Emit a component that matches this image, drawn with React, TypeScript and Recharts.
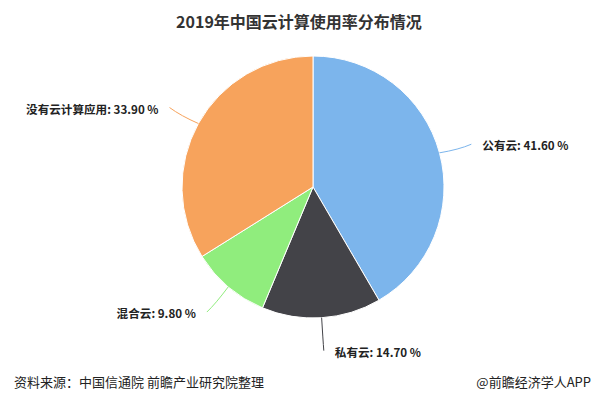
import { Cell, Pie, PieChart } from "recharts";

// share of enterprises by cloud usage, 2019 (%)
const categories = ["公有云", "私有云", "混合云", "没有云计算应用"];
const shares = [41.6, 14.7, 9.8, 33.9];
const colors = ["#7cb5ec", "#434348", "#90ed7d", "#f7a35c"];

const data = categories.map((name, i) => ({ name, value: shares[i] }));

const FONT = '"Noto Sans CJK SC", "Noto Sans", sans-serif';

const renderLabel = (props: any) => {
  const { cx, cy, midAngle, outerRadius, index, name, value } = props;
  const rad = Math.PI / 180;
  const cos = Math.cos(-midAngle * rad);
  const sin = Math.sin(-midAngle * rad);
  const sx = cx + outerRadius * cos;
  const sy = cy + outerRadius * sin;
  const mx = cx + (outerRadius + 20) * cos;
  const my = cy + (outerRadius + 20) * sin;
  const ex = cx + (outerRadius + 33) * cos;
  const ey = cy + (outerRadius + 33) * sin;
  const right = cos >= 0;
  return (
    <g>
      <path
        d={`M${sx},${sy} Q${mx},${my + 2} ${ex},${ey}`}
        stroke={colors[index]}
        strokeWidth={1}
        fill="none"
      />
      <text
        x={ex + (right ? 11 : -11)}
        y={ey + 1}
        textAnchor={right ? "start" : "end"}
        dominantBaseline="central"
        fontFamily={FONT}
        fontSize={11.6}
        fontWeight="bold"
        fill="#222"
      >
        {`${name}: ${Number(value).toFixed(2)} %`}
      </text>
    </g>
  );
};

export default function App() {
  return (
    <div
      style={{
        position: "absolute",
        left: 0,
        top: 0,
        width: 602,
        height: 393,
        background: "#fff",
        fontFamily: FONT,
      }}
    >
      <div
        style={{
          position: "absolute",
          top: 9,
          left: 0,
          width: 598,
          textAlign: "center",
          fontSize: 16,
          fontWeight: "bold",
          color: "#333",
        }}
      >
        2019年中国云计算使用率分布情况
      </div>
      <PieChart
        width={602}
        height={393}
        margin={{ top: 0, right: 0, bottom: 0, left: 0 }}
      >
        <Pie
          data={data}
          dataKey="value"
          nameKey="name"
          cx={313}
          cy={187}
          outerRadius={131}
          startAngle={90}
          endAngle={-270}
          stroke="#fff"
          strokeWidth={1}
          label={renderLabel}
          labelLine={false}
          isAnimationActive={false}
        >
          {data.map((d, i) => (
            <Cell key={d.name} fill={colors[i]} />
          ))}
        </Pie>
      </PieChart>
      <div
        style={{
          position: "absolute",
          top: 372,
          left: 14,
          fontSize: 13,
          color: "#222",
        }}
      >
        资料来源：中国信通院 前瞻产业研究院整理
      </div>
      <div
        style={{
          position: "absolute",
          top: 372,
          right: 11,
          fontSize: 13,
          color: "#222",
        }}
      >
        @前瞻经济学人APP
      </div>
    </div>
  );
}
